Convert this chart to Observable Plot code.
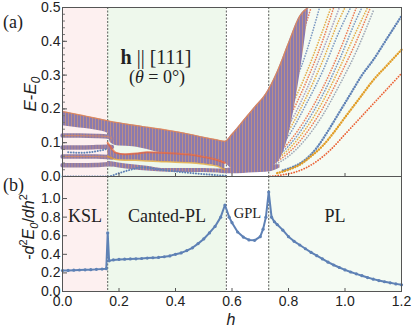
<!DOCTYPE html>
<html><head><meta charset="utf-8">
<script src="https://cdn.jsdelivr.net/npm/d3@7"></script>
<script src="https://cdn.jsdelivr.net/npm/@observablehq/plot@0.6"></script>
<style>
body{margin:0;background:#fff}
#wrap{position:relative;width:415px;height:330px;overflow:hidden;font-family:"Liberation Sans",Arial,sans-serif;color:#222}
#top,#bot{position:absolute;left:0}
#top{top:0}#bot{top:176px}
.t{position:absolute;white-space:nowrap;line-height:1}
.serif{font-family:"Liberation Serif","DejaVu Serif",serif}
.rot{transform:translate(-50%,-50%) rotate(-90deg)}
</style></head>
<body><div id="wrap">
<div id="top"></div><div id="bot"></div>
<div class="t serif" style="left:3px;top:13px;font-size:18px">(a)</div>
<div class="t serif" style="left:3px;top:176px;font-size:18px">(b)</div>
<div class="t serif" style="left:156px;top:47px;font-size:20px;transform:translateX(-50%)"><b>h</b> || [111]</div>
<div class="t serif" style="left:157px;top:68px;font-size:18px;transform:translateX(-50%)">(<i>θ</i> = 0°)</div>
<div class="t rot" style="left:32px;top:94px;font-size:17px"><i>E</i>-<i>E</i><sub style="font-size:12px"><i>0</i></sub></div>
<div class="t rot" style="left:29px;top:227px;font-size:16px">-<i>d</i><sup style="font-size:11px">2</sup><i>E</i><sub style="font-size:11px"><i>0</i></sub>/<i>dh</i><sup style="font-size:11px">2</sup></div>
<div class="t" style="left:231px;top:312px;font-size:16px;transform:translateX(-50%)"><i>h</i></div>
</div>
<script>
// ---------- phases ----------
const phaseNames = ["KSL", "Canted-PL", "GPL", "PL"];
const phaseStart = [0, 0.16, 0.58, 0.73];
const phaseEnd = [0.16, 0.58, 0.73, 1.2];
const boundaries = [0.16, 0.58, 0.73];

// ---------- top panel: dense spectrum bands (lower / upper envelopes) ----------
const hA   = [0, 0.04, 0.08, 0.12, 0.16, 0.17, 0.20, 0.25, 0.30, 0.35, 0.40, 0.45, 0.50, 0.55, 0.575, 0.60, 0.64, 0.68, 0.72, 0.76, 0.80, 0.84, 0.87];
const hiA  = [0.192, 0.186, 0.179, 0.172, 0.165, 0.163, 0.159, 0.152, 0.146, 0.140, 0.133, 0.125, 0.116, 0.108, 0.104, 0.125, 0.165, 0.205, 0.245, 0.31, 0.395, 0.475, 0.5];
const loA  = [0.150, 0.146, 0.142, 0.137, 0.128, 0.100, 0.090, 0.088, 0.080, 0.070, 0.068, 0.065, 0.058, 0.048, 0.040, 0.024, 0.022, 0.022, 0.025, 0.040, 0.120, 0.300, 0.480];

const hC   = [0.16, 0.19, 0.22, 0.26, 0.30, 0.35, 0.40, 0.45, 0.50, 0.55, 0.575];
const hiC  = [0.100, 0.070, 0.066, 0.068, 0.072, 0.070, 0.068, 0.065, 0.058, 0.048, 0.040];
const loC  = [0.060, 0.050, 0.048, 0.048, 0.046, 0.044, 0.042, 0.041, 0.037, 0.030, 0.020];

const hD   = [0.16, 0.20, 0.25, 0.30, 0.35, 0.40, 0.45, 0.50, 0.55, 0.58, 0.62, 0.66, 0.70, 0.74, 0.77];
const hiD  = [0.045, 0.040, 0.035, 0.030, 0.024, 0.024, 0.024, 0.024, 0.022, 0.024, 0.028, 0.030, 0.032, 0.035, 0.035];
const loD  = [0.030, 0.025, 0.020, 0.016, 0.013, 0.012, 0.012, 0.012, 0.010, 0.008, 0.008, 0.010, 0.012, 0.015, 0.025];

// KSL flat levels
const hKSL = [0, 0.06, 0.12, 0.16, 0.175];
const kslL1 = [0.121, 0.121, 0.120, 0.118, 0.112];
const kslL2 = [0.086, 0.086, 0.087, 0.088, 0.087];
const kslL3 = [0.059, 0.059, 0.059, 0.058, 0.056];
const kslL4 = [0.033, 0.033, 0.034, 0.036, 0.036];
const hKB  = [0.02, 0.06, 0.10, 0.14, 0.16];
const kslBlue = [0.072, 0.070, 0.072, 0.078, 0.082];

// ground state / lowest blue curve
const hG = [0, 0.08, 0.16, 0.20, 0.25, 0.28, 0.35, 0.40, 0.50, 0.58];
const eG = [0, 0, 0, 0.010, 0.022, 0.027, 0.020, 0.015, 0.007, 0.002];

// well separated curves in the polarized phase
const hR = [0.735, 0.78, 0.82, 0.86, 0.90, 0.95, 1.00, 1.05, 1.10, 1.15, 1.20];
const eRed  = [0.000, 0.005, 0.012, 0.025, 0.045, 0.080, 0.125, 0.170, 0.215, 0.260, 0.305];
const hY = [0.76, 0.80, 0.84, 0.88, 0.92, 0.96, 1.00, 1.05, 1.10, 1.15, 1.20];
const eGold = [0.010, 0.020, 0.035, 0.060, 0.090, 0.130, 0.175, 0.230, 0.285, 0.330, 0.375];
const hB = [0.78, 0.82, 0.86, 0.90, 0.94, 0.98, 1.02, 1.06, 1.10, 1.15, 1.20];
const eBlue = [0.018, 0.030, 0.050, 0.085, 0.135, 0.190, 0.245, 0.300, 0.345, 0.410, 0.475];

// fan of excited levels above
const fanH = [
  [0.74, 0.80, 0.86, 0.92, 0.98, 1.04, 1.10],
  [0.74, 0.80, 0.86, 0.92, 0.98, 1.04, 1.09],
  [0.74, 0.80, 0.86, 0.92, 0.98, 1.04, 1.08],
  [0.74, 0.80, 0.86, 0.92, 0.98, 1.04, 1.06],
  [0.74, 0.80, 0.86, 0.92, 0.98, 1.04],
  [0.74, 0.80, 0.86, 0.92, 0.98, 1.02],
  [0.74, 0.80, 0.86, 0.92, 0.98, 1.00],
  [0.74, 0.80, 0.86, 0.92, 0.98],
  [0.74, 0.80, 0.86, 0.92, 0.96],
  [0.74, 0.80, 0.86, 0.92, 0.95],
  [0.76, 0.80, 0.86, 0.91],
  [0.76, 0.80, 0.85, 0.88]
];
const fanE = [
  [0.030, 0.060, 0.110, 0.180, 0.270, 0.370, 0.490],
  [0.035, 0.070, 0.125, 0.200, 0.295, 0.400, 0.500],
  [0.040, 0.080, 0.140, 0.220, 0.320, 0.430, 0.500],
  [0.045, 0.090, 0.155, 0.240, 0.345, 0.465, 0.500],
  [0.050, 0.100, 0.170, 0.260, 0.370, 0.500],
  [0.060, 0.120, 0.210, 0.310, 0.430, 0.500],
  [0.070, 0.135, 0.230, 0.340, 0.465, 0.500],
  [0.080, 0.150, 0.250, 0.370, 0.500],
  [0.090, 0.170, 0.275, 0.400, 0.500],
  [0.100, 0.190, 0.300, 0.430, 0.500],
  [0.140, 0.230, 0.360, 0.500],
  [0.180, 0.280, 0.420, 0.500]
];

// ---------- bottom panel: -d2E0/dh2 ----------
const hCurv = [0, 0.02, 0.04, 0.06, 0.08, 0.10, 0.12, 0.14, 0.155, 0.16, 0.165, 0.18, 0.20, 0.22, 0.24, 0.26, 0.28, 0.30, 0.32, 0.34, 0.36, 0.38, 0.40, 0.42, 0.44, 0.46, 0.48, 0.50, 0.52, 0.54, 0.56, 0.575, 0.59, 0.60, 0.62, 0.64, 0.66, 0.68, 0.70, 0.71, 0.72, 0.73, 0.74, 0.75, 0.76, 0.78, 0.80, 0.82, 0.84, 0.86, 0.88, 0.90, 0.92, 0.94, 0.96, 0.98, 1.00, 1.02, 1.04, 1.06, 1.08, 1.10, 1.12, 1.14, 1.16, 1.18, 1.20];
const curv  = [0.225, 0.227, 0.229, 0.231, 0.233, 0.235, 0.238, 0.241, 0.245, 0.63, 0.33, 0.34, 0.345, 0.348, 0.35, 0.352, 0.355, 0.36, 0.363, 0.367, 0.374, 0.383, 0.40, 0.415, 0.44, 0.47, 0.515, 0.565, 0.63, 0.70, 0.80, 0.93, 0.80, 0.74, 0.64, 0.585, 0.555, 0.55, 0.59, 0.67, 0.80, 1.07, 0.80, 0.75, 0.72, 0.66, 0.59, 0.54, 0.50, 0.46, 0.42, 0.385, 0.35, 0.315, 0.285, 0.258, 0.232, 0.21, 0.19, 0.17, 0.15, 0.133, 0.118, 0.105, 0.093, 0.082, 0.072];

const xTicks = [0, 0.2, 0.4, 0.6, 0.8, 1.0, 1.2];
const yTicksTop = [0, 0.1, 0.2, 0.3, 0.4, 0.5];
const yTicksBot = [0, 0.2, 0.4, 0.6, 0.8, 1.0];

// ---------- build tables ----------
const phases = phaseNames.map((name, i) => ({name, start: phaseStart[i], end: phaseEnd[i]}));
const zipBand = (h, lo, hi) => h.map((v, i) => ({h: v, lo: lo[i], hi: hi[i]}));
const zip = (h, e) => h.map((v, i) => ({h: v, e: e[i]}));
const bandA = zipBand(hA, loA, hiA), bandC = zipBand(hC, loC, hiC), bandD = zipBand(hD, loD, hiD);
const fans = fanH.map((h, k) => zip(h, fanE[k]).map(d => ({...d, k})));

const BLUE = "#5e81b5", GOLD = "#e19c24", RED = "#eb6235", BANDFILL = "#8c7bb1";
const phaseColor = {"KSL": "#fdf0f0", "Canted-PL": "#eef8ec", "GPL": "#ffffff", "PL": "#f5fbf3"};
const fanColors = ["#8a93a8", RED, GOLD, BLUE, RED, BLUE, GOLD, "#9a8fb8", RED, GOLD, BLUE, RED];
const fontStyle = {fontFamily: "Liberation Sans, Arial, sans-serif", fontSize: "14px", color: "#222", background: "transparent", overflow: "visible"};

const dotted = (data, stroke, extra = {}) => Plot.line(data, {x: "h", y: "e", stroke, strokeWidth: 2, strokeDasharray: "0.1,2.6", strokeLinecap: "round", curve: "monotone-x", ...extra});
const level = (y) => Plot.line(zip(hKSL, y), {x: "h", y: "e", stroke: BANDFILL, strokeWidth: 4.5, curve: "monotone-x"});
const levelEdge = (y) => Plot.line(zip(hKSL, y), {x: "h", y: "e", stroke: "#e0885a", strokeWidth: 1, strokeOpacity: 0.7, curve: "monotone-x"});

const topPlot = Plot.plot({
  width: 415, height: 177, marginLeft: 62, marginRight: 14, marginTop: 7, marginBottom: 1,
  style: fontStyle,
  color: {type: "identity"},
  x: {domain: [0, 1.2], axis: null},
  y: {domain: [0, 0.5], axis: null},
  marks: [
    Plot.rect(phases, {x1: "start", x2: "end", fill: d => phaseColor[d.name]}),
    Plot.ruleX(boundaries, {stroke: "#333", strokeWidth: 0.8, strokeDasharray: "2,1.5"}),
    ...fans.map((f, k) => dotted(f, fanColors[k], {strokeWidth: 1.7, strokeOpacity: 0.8})),
    Plot.areaY(bandA, {x: "h", y1: "lo", y2: "hi", fill: BANDFILL, curve: "monotone-x"}),
    Plot.areaY(bandC, {x: "h", y1: "lo", y2: "hi", fill: BANDFILL, curve: "monotone-x"}),
    Plot.areaY(bandD, {x: "h", y1: "lo", y2: "hi", fill: BANDFILL, curve: "monotone-x"}),
    level(kslL1), level(kslL2), level(kslL3), level(kslL4),
    levelEdge(kslL1), levelEdge(kslL3),
    Plot.line(bandA, {x: "h", y: "hi", stroke: "#e8874f", strokeWidth: 1.2, strokeOpacity: 0.8, curve: "monotone-x"}),
    Plot.line(bandC, {x: "h", y: "hi", stroke: RED, strokeWidth: 2, strokeOpacity: 0.7, curve: "monotone-x"}),
    Plot.line(bandC, {x: "h", y: "lo", stroke: GOLD, strokeWidth: 1.5, strokeOpacity: 0.7, curve: "monotone-x"}),
    dotted(zip(hKB, kslBlue), BLUE),
    dotted(zip(hG, eG), BLUE),
    dotted(zip(hB, eBlue), BLUE, {strokeWidth: 2.4}),
    dotted(zip(hY, eGold), GOLD, {strokeWidth: 2.4}),
    dotted(zip(hR, eRed), RED, {strokeWidth: 1.8}),
    Plot.frame({stroke: "#555"}),
    Plot.axisY(yTicksTop, {anchor: "left", tickSize: 0, tickPadding: 2, tickFormat: d3.format(".1f"), label: null, fontSize: 14}),
    Plot.axisY({ticks: 25, anchor: "right", frameAnchor: "left", tickSize: 2, text: null, label: null, stroke: "#777"}),
    Plot.axisY(yTicksTop, {anchor: "right", frameAnchor: "left", tickSize: 4, text: null, label: null, stroke: "#555"}),
    Plot.axisX(xTicks, {anchor: "top", frameAnchor: "bottom", tickSize: 4, text: null, label: null, stroke: "#555"})
  ]
});

const botPlot = Plot.plot({
  width: 415, height: 154, marginLeft: 62, marginRight: 14, marginTop: 0, marginBottom: 39,
  style: fontStyle,
  color: {type: "identity"},
  x: {domain: [0, 1.2], axis: null},
  y: {domain: [0, 1.237], axis: null},
  marks: [
    Plot.rect(phases, {x1: "start", x2: "end", fill: d => phaseColor[d.name]}),
    Plot.ruleX(boundaries, {stroke: "#333", strokeWidth: 0.8, strokeDasharray: "2,1.5"}),
    Plot.text(phases.filter(d => d.name !== "GPL"), {x: d => (d.start + d.end) / 2, text: "name", frameAnchor: "top", dy: 33, fontSize: 18, fontFamily: "Liberation Serif, serif", fill: "#222"}),
    Plot.text(phases.filter(d => d.name === "GPL"), {x: d => (d.start + d.end) / 2, text: "name", frameAnchor: "top", dy: 31, fontSize: 14.5, fontFamily: "Liberation Serif, serif", fill: "#222"}),
    Plot.line(zip(hCurv, curv), {x: "h", y: "e", stroke: BLUE, strokeWidth: 2}),
    Plot.dot(zip(hCurv, curv), {x: "h", y: "e", r: 1.6, fill: BLUE}),
    Plot.frame({stroke: "#555"}),
    Plot.axisY(yTicksBot, {anchor: "left", tickSize: 0, tickPadding: 2, tickFormat: d3.format(".1f"), label: null, fontSize: 14}),
    Plot.axisY(yTicksBot, {anchor: "right", frameAnchor: "left", tickSize: 4, text: null, label: null, stroke: "#555"}),
    Plot.axisX(xTicks, {anchor: "bottom", tickSize: 0, tickPadding: 5, tickFormat: d3.format(".1f"), label: null, fontSize: 14}),
    Plot.axisX(xTicks, {anchor: "top", frameAnchor: "bottom", tickSize: 4, text: null, label: null, stroke: "#555"})
  ]
});

document.getElementById("top").appendChild(topPlot);
document.getElementById("bot").appendChild(botPlot);

// striped texture for dense spectrum (purple/orange columns of dots)
topPlot.querySelectorAll('[fill="' + BANDFILL + '"]').forEach(el => el.setAttribute("fill", "url(#stripes)"));
topPlot.querySelectorAll('[stroke="' + BANDFILL + '"]').forEach(el => el.setAttribute("stroke", "url(#stripes)"));
const ns = "http://www.w3.org/2000/svg";
const defs = document.createElementNS(ns, "defs");
defs.innerHTML = '<pattern id="stripes" patternUnits="userSpaceOnUse" width="3" height="6"><rect width="3" height="6" fill="#8a7aaf"/><rect x="2" width="0.9" height="6" fill="#d99a70" opacity="0.7"/></pattern>';
topPlot.insertBefore(defs, topPlot.firstChild);
</script>
</body></html>
